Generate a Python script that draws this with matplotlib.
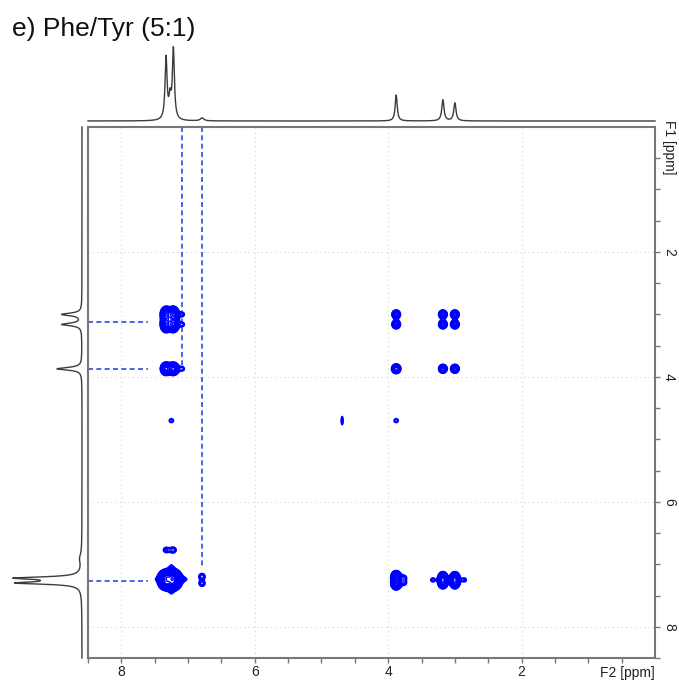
import numpy as np
import matplotlib.pyplot as plt

plt.rcParams['font.family'] = ['Liberation Sans', 'DejaVu Sans']

BLUE = "#0000ff"
DASH = "#2a4de0"
GREY = "#777777"
TXT = "#222222"

# ── 1D projections: shift (ppm), height, half width (ppm) ─────────────────────
top_ppm    = [7.33, 7.27, 7.22, 6.79, 3.88, 3.18, 3.00]
top_height = [62, 20, 70, 3, 26, 21, 18]
top_hw     = [0.018, 0.02, 0.018, 0.03, 0.018, 0.02, 0.02]

left_ppm    = [7.30, 7.26, 7.22, 6.90, 3.87, 3.16, 3.00]
left_height = [58, 14, 60, 2, 25, 20, 20]
left_hw     = [0.022, 0.03, 0.022, 0.08, 0.025, 0.025, 0.025]

# ── 2D cross peaks: F2 shift, F1 shift, amplitude (1 = lowest contour),
#    F2 / F1 widths (ppm) ─────────────────────────────────────────────────────
cp_f2 = [7.33, 7.22, 7.33, 7.22,
         7.33, 7.22, 7.33, 7.22, 7.33, 7.22,
         3.88, 3.88, 3.88, 3.18, 3.00, 3.18, 3.00, 3.18, 3.00,
         3.88, 3.88, 3.18, 3.18, 3.00, 3.00,
         7.09, 7.09, 7.09, 6.79, 6.79, 7.33, 7.22,
         4.69, 7.25, 3.88, 3.76, 3.76, 3.33, 2.86]
cp_f1 = [7.20, 7.20, 7.30, 7.30,
         3.00, 3.00, 3.16, 3.16, 3.87, 3.87,
         3.87, 3.00, 3.16, 3.00, 3.00, 3.16, 3.16, 3.87, 3.87,
         7.20, 7.31, 7.21, 7.30, 7.21, 7.30,
         3.00, 3.16, 3.87, 7.19, 7.31, 6.77, 6.77,
         4.70, 4.70, 4.70, 7.21, 7.30, 7.25, 7.25]
cp_amp = [28, 28, 28, 28,
          12, 12, 12, 12, 11, 11,
          6, 4.5, 4.5, 4.5, 4.5, 4.5, 4.5, 4.5, 4.5,
          8, 8, 6, 6, 6, 6,
          1.5, 1.5, 1.5, 1.7, 1.7, 1.6, 1.6,
          1.6, 1.4, 1.4, 1.4, 1.4, 1.4, 1.4]
cp_w2 = [0.045] * 4 + [0.04] * 6 + [0.038] * 9 + [0.04] * 6 + [0.04] * 7 + \
        [0.015, 0.04, 0.04, 0.04, 0.04, 0.04, 0.04]
cp_w1 = [0.045] * 4 + [0.06] * 4 + [0.05] * 2 + [0.042] * 9 + [0.05] * 6 + \
        [0.04] * 7 + [0.07, 0.04, 0.04, 0.04, 0.04, 0.04, 0.04]

# broad cross-shaped base under the aromatic diagonal peak
diag_f2, diag_f1, diag_amp, diag_hw = 7.25, 7.24, 15, 0.062

grid_ppm = [2, 4, 6, 8]
tick_ppm = [0.5, 1.0, 1.5, 2.0, 2.5, 3.0, 3.5, 4.0, 4.5, 5.0, 5.5, 6.0, 6.5,
            7.0, 7.5, 8.0, 8.5]
label_ppm = [2, 4, 6, 8]


def lorentz(x, x0, hw):
    return 1.0 / (1.0 + ((x - x0) / hw) ** 2)


def gauss(x, x0, s):
    return np.exp(-0.5 * ((x - x0) / s) ** 2)


W, H = 679, 681
fig = plt.figure(figsize=(W / 100, H / 100), dpi=100)

# ── Main 2D panel ─────────────────────────────────────────────────────────────
ax = fig.add_axes([88 / W, 23 / H, 567 / W, 531 / H])
ax.set_xlim(8.5, 0)
ax.set_ylim(8.5, 0)

for g in grid_ppm:
    ax.axvline(g, color="#d4d4d4", lw=0.8, ls=(0, (1, 3)), zorder=0)
    ax.axhline(g, color="#d4d4d4", lw=0.8, ls=(0, (1, 3)), zorder=0)

xs = np.linspace(8.5, 0, 1700)
ys = np.linspace(0, 8.5, 1700)
X, Y = np.meshgrid(xs, ys)
Z = diag_amp * lorentz(X, diag_f2, diag_hw) * lorentz(Y, diag_f1, diag_hw)
for f2, f1, a, w2, w1 in zip(cp_f2, cp_f1, cp_amp, cp_w2, cp_w1):
    Z += a * gauss(X, f2, w2) * gauss(Y, f1, w1)

levels = 1.0 * 1.18 ** np.arange(28)
ax.contour(X, Y, Z, levels=levels, colors=BLUE, linewidths=1.0, zorder=3)

# guide lines
dash = dict(color=DASH, lw=1.2, ls=(0, (3, 2)), zorder=2)
for row in [3.12, 3.87, 7.26]:
    ax.plot([8.5, 7.6], [row, row], **dash)
ax.plot([7.09, 7.09], [0, 3.85], **dash)
ax.plot([6.79, 6.79], [0, 7.05], **dash)

for s in ax.spines.values():
    s.set_color(GREY)
    s.set_linewidth(1.5)

ax.set_xticks(tick_ppm)
ax.set_xticklabels([f"{t:g}" if t in label_ppm else "" for t in tick_ppm])
ax.yaxis.tick_right()
ax.set_yticks(tick_ppm)
ax.set_yticklabels([f"{t:g}" if t in label_ppm else "" for t in tick_ppm],
                   rotation=-90, va="center")
ax.tick_params(axis="both", length=3.6, width=1.0, color=GREY, labelsize=10,
               labelcolor=TXT, pad=1.5)

ax.text(0.952, -0.028, "F2 [ppm]", transform=ax.transAxes, ha="center",
        va="center", fontsize=10, color=TXT)
ax.text(1.0247, 0.962, "F1 [ppm]", transform=ax.transAxes, ha="center",
        va="center", rotation=-90, fontsize=10, color=TXT)

# ── Top projection ────────────────────────────────────────────────────────────
axt = fig.add_axes([88 / W, (H - 121) / H, 567 / W, 81 / H])
px = np.linspace(8.5, 0, 4000)
spec_top = np.zeros_like(px)
for p, h, w in zip(top_ppm, top_height, top_hw):
    spec_top += h * lorentz(px, p, w)
axt.plot(px, spec_top, color="#3c3c3c", lw=1.0, clip_on=False)
axt.set_xlim(8.5, 0)
axt.set_ylim(0, 81)
axt.axis("off")

# ── Left projection ───────────────────────────────────────────────────────────
axl = fig.add_axes([8 / W, 23 / H, 74 / W, 531 / H])
py = np.linspace(0, 8.5, 4000)
spec_left = np.zeros_like(py)
for p, h, w in zip(left_ppm, left_height, left_hw):
    spec_left += h * lorentz(py, p, w)
axl.plot(spec_left, py, color="#3c3c3c", lw=1.0, clip_on=False)
axl.set_xlim(74, 0)
axl.set_ylim(8.5, 0)
axl.axis("off")

fig.text(12 / W, 1 - 29 / H, "e) Phe/Tyr (5:1)", fontsize=19, va="center",
         ha="left", color="#111111")

fig.savefig("out.png", dpi=100)
